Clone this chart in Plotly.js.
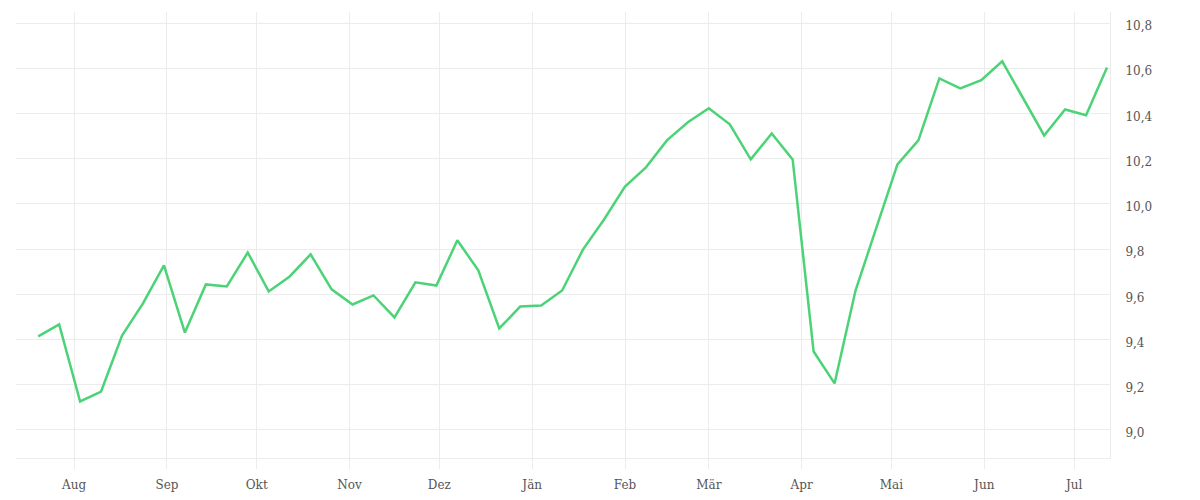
<!DOCTYPE html>
<html>
<head>
<meta charset="utf-8">
<script src="https://cdn.plot.ly/plotly-3.0.1.min.js"></script>
<style>
	html, body { margin: 0; padding: 0; background: #fff; }
	#chart { width: 1200px; height: 500px; }
</style>
</head>
<body>
<div id="chart"></div>
<script>
// weekly values
var dates = [
	'2022-07-20', '2022-07-27', '2022-08-03', '2022-08-10', '2022-08-17', '2022-08-24', '2022-08-31',
	'2022-09-07', '2022-09-14', '2022-09-21', '2022-09-28', '2022-10-05', '2022-10-12', '2022-10-19',
	'2022-10-26', '2022-11-02', '2022-11-09', '2022-11-16', '2022-11-23', '2022-11-30', '2022-12-07',
	'2022-12-14', '2022-12-21', '2022-12-28', '2023-01-04', '2023-01-11', '2023-01-18', '2023-01-25',
	'2023-02-01', '2023-02-08', '2023-02-15', '2023-02-22', '2023-03-01', '2023-03-08', '2023-03-15',
	'2023-03-22', '2023-03-29', '2023-04-05', '2023-04-12', '2023-04-19', '2023-04-26', '2023-05-03',
	'2023-05-10', '2023-05-17', '2023-05-24', '2023-05-31', '2023-06-07', '2023-06-14', '2023-06-21',
	'2023-06-28', '2023-07-05', '2023-07-12'
];
var values = [
	9.414, 9.467, 9.126, 9.170, 9.418, 9.560, 9.728,
	9.431, 9.644, 9.635, 9.785, 9.613, 9.679, 9.777,
	9.622, 9.555, 9.595, 9.498, 9.653, 9.639, 9.839,
	9.706, 9.449, 9.546, 9.551, 9.617, 9.799, 9.931,
	10.077, 10.162, 10.281, 10.361, 10.423, 10.352, 10.197,
	10.312, 10.197, 9.347, 9.206, 9.617, 9.896, 10.175,
	10.281, 10.555, 10.511, 10.547, 10.631, 10.467, 10.303,
	10.418, 10.392, 10.604
];
var monthTicks = [
	'2022-08-01', '2022-09-01', '2022-10-01', '2022-11-01', '2022-12-01', '2023-01-01',
	'2023-02-01', '2023-03-01', '2023-04-01', '2023-05-01', '2023-06-01', '2023-07-01'
];
var monthLabels = ['Aug', 'Sep', 'Okt', 'Nov', 'Dez', 'Jän', 'Feb', 'Mär', 'Apr', 'Mai', 'Jun', 'Jul'];

var gridColor = '#ececec';

var data = [{
	x : dates,
	y : values,
	type : 'scatter',
	mode : 'lines',
	line : {
		color : 'rgb(76,211,120)',
		width : 2.5
	},
	hoverinfo : 'x+y'
}];

var layout = {
	width : 1200,
	height : 500,
	margin : { l : 16, r : 90, t : 12, b : 42 },
	paper_bgcolor : '#fff',
	plot_bgcolor : '#fff',
	separators : ',.',
	showlegend : false,
	font : { family : 'DejaVu Serif, serif', size : 12, color : '#555' },
	xaxis : {
		type : 'date',
		range : ['2022-07-12 14:00', '2023-07-13'],
		tickmode : 'array',
		tickvals : monthTicks,
		ticktext : monthLabels,
		showgrid : true,
		gridcolor : gridColor,
		gridwidth : 1,
		ticks : 'outside',
		ticklen : 10,
		tickcolor : gridColor,
		ticklabelstandoff : 6,
		showline : true,
		linecolor : gridColor,
		zeroline : false
	},
	yaxis : {
		side : 'right',
		range : [8.876, 10.849],
		tick0 : 9,
		dtick : 0.2,
		tickformat : '.1f',
		showgrid : true,
		gridcolor : gridColor,
		gridwidth : 1,
		ticks : '',
		ticklabelstandoff : 12,
		ticklabelshift : 3,
		showline : true,
		linecolor : gridColor,
		zeroline : false
	}
};

Plotly.newPlot('chart', data, layout, { displayModeBar : false, staticPlot : true });
</script>
</body>
</html>
